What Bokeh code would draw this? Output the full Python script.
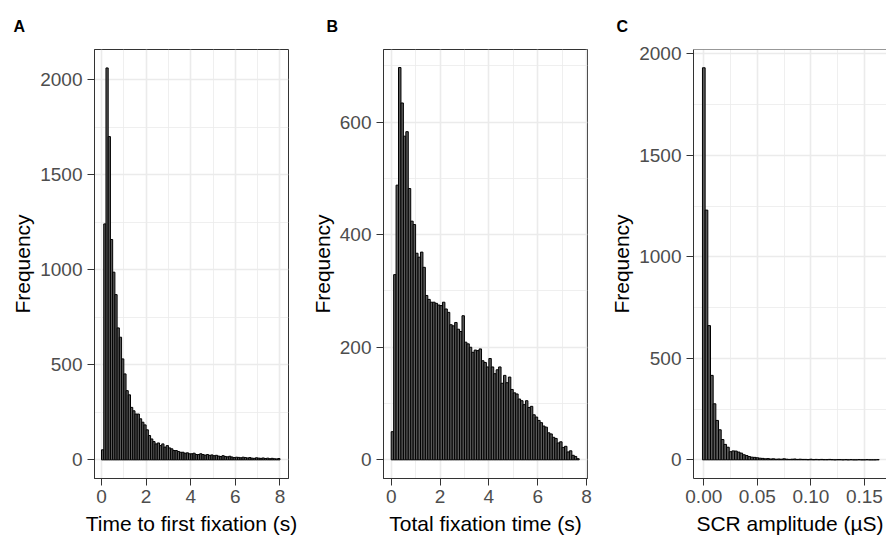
from bokeh.plotting import figure
from bokeh.models import Range1d, FixedTicker, NumeralTickFormatter, Span, ColumnDataSource
from bokeh.layouts import row
from bokeh.embed import file_html
from bokeh.resources import INLINE

# ---------------- data ----------------
# Panel A: time to first fixation (s), histogram, bins of 0.1 s starting at 0
ttff_bin_start = 0.0
ttff_bin_width = 0.1
ttff_counts = [53, 1241, 2061, 1700, 1159, 987, 869, 694, 645, 531,
               452, 364, 342, 276, 258, 241, 241, 216, 198, 184,
               158, 128, 110, 96, 84, 89, 75, 84, 67, 75,
               63, 58, 49, 49, 44, 40, 40, 35, 37, 32,
               32, 35, 28, 28, 32, 28, 25, 28, 24, 26,
               22, 24, 20, 18, 22, 18, 16, 19, 15, 12,
               14, 13, 11, 14, 12, 10, 12, 9, 8, 11,
               9, 8, 10, 7, 9, 6, 8, 6, 5, 7]

# Panel B: total fixation time (s), bins of 0.1 s starting at 0
tft_bin_start = 0.0
tft_bin_width = 0.1
tft_counts = [50, 329, 488, 697, 634, 575, 583, 482, 424, 418,
              367, 360, 369, 342, 292, 285, 280, 280, 278, 275,
              274, 280, 268, 262, 240, 238, 244, 232, 228, 256,
              209, 206, 200, 191, 195, 194, 197, 176, 173, 165,
              180, 165, 153, 160, 165, 136, 150, 137, 147, 125,
              119, 117, 108, 105, 98, 105, 93, 95, 80, 76,
              70, 66, 60, 58, 48, 46, 40, 38, 30, 32,
              22, 24, 14, 16, 8, 6, 2]

# Panel C: SCR amplitude (uS), bins of 0.0025 centred on multiples of 0.0025
scr_bin_start = -0.00125
scr_bin_width = 0.0025
scr_counts = [1931, 1230, 661, 416, 276, 194, 148, 100, 76, 62,
              40, 44, 43, 38, 33, 25, 21, 16, 13, 12,
              10, 8, 7, 5, 6, 4, 5, 3, 4, 3,
              5, 3, 2, 3, 4, 2, 3, 2, 2, 1,
              3, 1, 2, 1, 2, 1, 1, 2, 1, 0,
              1, 1, 0, 1, 0, 1, 0, 0, 1, 0,
              0, 1, 0, 0, 0, 1]

ttff_xticks = [0, 2, 4, 6, 8]
ttff_yticks = [0, 500, 1000, 1500, 2000]
tft_xticks = [0, 2, 4, 6, 8]
tft_yticks = [0, 200, 400, 600]
scr_xticks = [0.0, 0.05, 0.10, 0.15]
scr_yticks = [0, 500, 1000, 1500, 2000]

FONT = "Liberation Sans"
BORDER = "#333333"
GRID = "#EBEBEB"


def midpoints(ticks, lo, hi):
    out = []
    step = ticks[1] - ticks[0]
    cands = [ticks[0] - step / 2] + [t + step / 2 for t in ticks]
    for c in cands:
        if lo < c < hi:
            out.append(c)
    return out


def panel(letter, xlabel, counts, b0, bw, xr, yr, xt, yt, width, left, right,
          letter_x, xfmt=None, outline=True):
    p = figure(width=width, height=537, x_range=Range1d(*xr), y_range=Range1d(*yr),
               output_backend="svg", toolbar_location=None,
               min_border_left=left, min_border_right=right,
               min_border_top=49, min_border_bottom=59)
    p.background_fill_color = "white"
    p.border_fill_color = "white"
    p.outline_line_color = BORDER if outline else None
    p.outline_line_width = 1

    lefts = [b0 + i * bw for i in range(len(counts))]
    rights = [l + bw for l in lefts]
    src = ColumnDataSource(dict(left=lefts, right=rights, top=counts,
                                bottom=[0] * len(counts)))
    p.quad(left="left", right="right", top="top", bottom="bottom", source=src,
           fill_color="#5a5a5a", line_color="black", line_width=1)

    if not outline:
        p.add_layout(Span(location=yr[1], dimension="width", line_color=BORDER,
                          line_width=1))

    p.xaxis.ticker = FixedTicker(ticks=xt, minor_ticks=midpoints(xt, *xr))
    p.yaxis.ticker = FixedTicker(ticks=yt, minor_ticks=midpoints(yt, *yr))
    if xfmt:
        p.xaxis.formatter = NumeralTickFormatter(format=xfmt)

    for ax in (p.xaxis[0], p.yaxis[0]):
        ax.axis_line_color = BORDER
        ax.axis_line_width = 1
        ax.major_tick_line_color = BORDER
        ax.major_tick_line_width = 1
        ax.major_tick_out = 7
        ax.major_tick_in = 0
        ax.minor_tick_line_color = None
        ax.major_label_text_font = FONT
        ax.major_label_text_font_size = "19px"
        ax.major_label_text_color = "#4D4D4D"
        ax.axis_label_text_font = FONT
        ax.axis_label_text_font_size = "21px"
        ax.axis_label_text_font_style = "normal"
        ax.axis_label_text_color = "black"
    p.xaxis.axis_label = xlabel
    p.yaxis.axis_label = "Frequency"
    p.xaxis.major_label_standoff = 4
    p.yaxis.major_label_standoff = 5
    p.xaxis.axis_label_standoff = 6
    p.yaxis.axis_label_standoff = 3

    p.xgrid.grid_line_color = GRID
    p.xgrid.grid_line_width = 1.6
    p.ygrid.grid_line_color = GRID
    p.ygrid.grid_line_width = 1.6
    p.xgrid.minor_grid_line_color = GRID
    p.xgrid.minor_grid_line_width = 0.8
    p.ygrid.minor_grid_line_color = GRID
    p.ygrid.minor_grid_line_width = 0.8

    p.title.text = letter
    p.title.align = "left"
    p.title.offset = letter_x - left
    p.title.standoff = 30
    p.title.text_font = FONT
    p.title.text_font_size = "16px"
    p.title.text_font_style = "bold"
    p.title.text_color = "black"
    return p


pA = panel("A", "Time to first fixation (s)", ttff_counts, ttff_bin_start, ttff_bin_width,
           (-0.314, 8.381), (-98, 2158), ttff_xticks, ttff_yticks,
           300, 94, 12, 13)
pB = panel("B", "Total fixation time (s)", tft_counts, tft_bin_start, tft_bin_width,
           (-0.315, 8.041), (-33.2, 729), tft_xticks, tft_yticks,
           300, 83, 13, 26)
pC = panel("C", "SCR amplitude (\u00b5S)", scr_counts, scr_bin_start, scr_bin_width,
           (-0.00962, 0.1706), (-92, 2021), scr_xticks, scr_yticks,
           286, 93, 0, 16, xfmt="0.00", outline=False)

layout = row(pA, pB, pC, spacing=0)
open("out.html", "w").write(file_html(layout, INLINE))
